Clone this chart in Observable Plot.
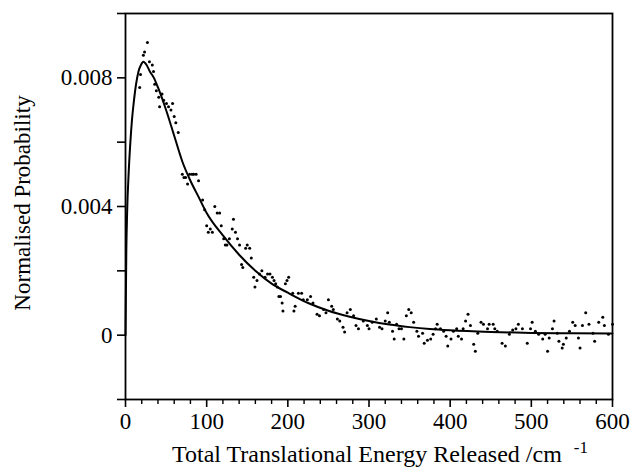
<!DOCTYPE html>
<html>
<head>
<meta charset="utf-8">
<script src="https://cdn.jsdelivr.net/npm/d3@7"></script>
<script src="https://cdn.jsdelivr.net/npm/@observablehq/plot@0.6"></script>
<style>
  html, body { margin: 0; padding: 0; background: #fff; }
  #chart { width: 634px; height: 474px; }
</style>
</head>
<body>
<div id="chart"></div>
<script>
// Measured points (Total translational energy /cm-1, normalised probability)
const energy = [17.5,18.5,22,23.5,27,29.5,33,34.5,36,38,41,42,45,47,50.5,53,56,58,60,62,65,70,72,74,76.5,79,82,84,87,90,95,97.5,100,102,104.5,107,110,113,116,118,121,123,125,128,131.5,133,135.5,138,140.5,143,144.5,148,150,153,155,158,159.5,162,165,168,172,175,178,181,183,185,187,189,191,193,194,197,199,201,206,207.5,209,213,217,219,224,228,231,236,239,244,247,250,254,256,261,264,268,270,273,277,281,284,287,293,298,300,304,309,313,316,320,323,325,329,331,334,337,340,343,346,349,352,355,359,361,366,368,372,376,379,382,384,388,392,395,397,401,404,408,410,414,416,419,422,425,429,431,434,438,441,446,448,453,455,458,464,468,473,477,481,484,489,495,499,501,505,509,514,517,520,522,526,528,532,534,538,539.5,543,547,551,554,558,560,563,567,571,576,578,583,588,590,595,600];
const prob = [0.0077,0.0081,0.0087,0.0088,0.0091,0.0085,0.0084,0.0082,0.0078,0.0076,0.0074,0.0071,0.0075,0.0073,0.0072,0.0071,0.0070,0.0072,0.0068,0.0066,0.0063,0.0050,0.0049,0.0049,0.0047,0.0050,0.0050,0.0050,0.0050,0.0048,0.0042,0.0039,0.0034,0.0032,0.0033,0.0032,0.0040,0.0038,0.0038,0.0034,0.0030,0.0028,0.0028,0.0030,0.0033,0.0036,0.0032,0.0030,0.0028,0.0022,0.0021,0.0027,0.0028,0.0027,0.0024,0.0018,0.0015,0.0017,0.0019,0.0020,0.0018,0.0019,0.0019,0.0018,0.0017,0.0016,0.0015,0.0012,0.0012,0.0010,0.00075,0.0016,0.0017,0.0018,0.0013,0.00075,0.0009,0.0013,0.0013,0.0011,0.0011,0.0012,0.0010,0.00065,0.0006,0.0008,0.0007,0.0011,0.0009,0.0008,0.0005,0.00044,0.00025,0.0001,0.0007,0.0008,0.0006,0.0003,0.0002,0.00044,0.0003,0.0002,0.0004,0.0005,0.00025,0.0002,0.00044,0.0007,0.0004,0.00012,-0.00012,0.00034,0.0002,0.0002,-0.00012,0.0006,0.0008,0.0007,0.0004,0.00012,-0.00003,0.00006,-0.00025,-0.00016,-0.00012,0.00003,0.0002,0.00034,0.0002,0.00012,-0.00003,-0.00034,-0.00012,0.00012,0.0002,-0.00003,-0.00012,0.0002,0.00044,0.00065,0.0003,-0.00028,-0.0005,0.00006,0.0004,0.00034,0.0002,0.00034,0.00034,0.0002,0.00012,-0.00025,-0.00034,0.00003,0.00016,0.0002,0.00034,0.0002,-0.00025,0.0002,0.0004,0.00012,0.00003,-0.00012,0.00003,-0.0005,-0.00009,0.0002,0.00044,0.00006,-0.00019,-0.0004,-0.00028,-0.00009,0.00012,0.0004,0.0003,-0.00009,-0.0004,0.0003,0.0007,0.00034,0.00006,-0.00019,0.0004,0.00056,0.0003,0.00003,0.00034];

// Fitted distribution
const fitEnergy = [0,1,2,4,6,8,10,13,16,19,22,26,30,35,40,50,60,70,80,90,100,120,140,160,180,200,225,250,275,300,325,350,375,400,450,500,550,600];
const fitProb = [0,0.0026,0.0038,0.0051,0.0060,0.0067,0.0072,0.0078,0.0082,0.0084,0.0085,0.0084,0.0082,0.0080,0.0077,0.0070,0.0062,0.0054,0.0048,0.0043,0.0038,0.0031,0.0025,0.0020,0.0016,0.00132,0.00100,0.00076,0.00058,0.00044,0.00033,0.00025,0.00019,0.00015,0.00010,0.00007,0.00006,0.00005];

// Axis ticks
const xMajorTicks = [0,100,200,300,400,500,600];
const xMinorTicks = [20,40,60,80,120,140,160,180,220,240,260,280,320,340,360,380,420,440,460,480,520,540,560,580];
const yMajorTicks = [0,0.004,0.008];
const yTickLabels = ["0","0.004","0.008"];
const yMinorTicks = [-0.002,0.002,0.006,0.010];

const xTitle = "Total Translational Energy Released /cm";
const xTitleSup = "-1";
const yTitle = "Normalised Probability";

const points = energy.map((e, i) => ({e, p: prob[i]}));
const fit = fitEnergy.map((e, i) => ({e, p: fitProb[i]}));

const fontFamily = "Liberation Serif, Times New Roman, serif";

const chart = Plot.plot({
  width: 634,
  height: 474,
  marginLeft: 125,
  marginRight: 22,
  marginTop: 13,
  marginBottom: 75,
  style: {fontFamily, fontSize: "23px", background: "white", color: "black", overflow: "visible"},
  x: {domain: [0, 600]},
  y: {domain: [-0.002, 0.010]},
  marks: [
    Plot.axisY(yMinorTicks, {tickSize: 8, tickFormat: () => "", strokeWidth: 1.6, label: null}),
    Plot.axisY(yMajorTicks, {tickSize: 8, tickPadding: 5, strokeWidth: 1.6, fontSize: 23,
      tickFormat: (d) => yTickLabels[yMajorTicks.indexOf(d)], label: null}),
    Plot.axisX(xMinorTicks, {tickSize: 5, tickFormat: () => "", strokeWidth: 1.4, label: null}),
    Plot.axisX(xMajorTicks, {tickSize: 8, tickPadding: 5, strokeWidth: 1.6, fontSize: 23, label: null}),
    Plot.frame({stroke: "black", strokeWidth: 1.8}),
    Plot.line(fit, {x: "e", y: "p", curve: "monotone-x", stroke: "black", strokeWidth: 2}),
    Plot.dot(points, {x: "e", y: "p", r: 1.5, fill: "black", stroke: "none"})
  ]
});

const svg = d3.select(chart);
// y title
svg.append("text")
  .attr("transform", "translate(30,203) rotate(-90)")
  .attr("text-anchor", "middle")
  .attr("font-size", 23)
  .attr("fill", "black")
  .text(yTitle);
// x title with superscript
const xt = svg.append("text")
  .attr("x", 380)
  .attr("y", 462)
  .attr("text-anchor", "middle")
  .attr("font-size", 24)
  .attr("fill", "black");
xt.append("tspan").text(xTitle);
xt.append("tspan").attr("dx", 12).attr("dy", -9).attr("font-size", 17).text(xTitleSup);

document.getElementById("chart").appendChild(chart);
</script>
</body>
</html>
